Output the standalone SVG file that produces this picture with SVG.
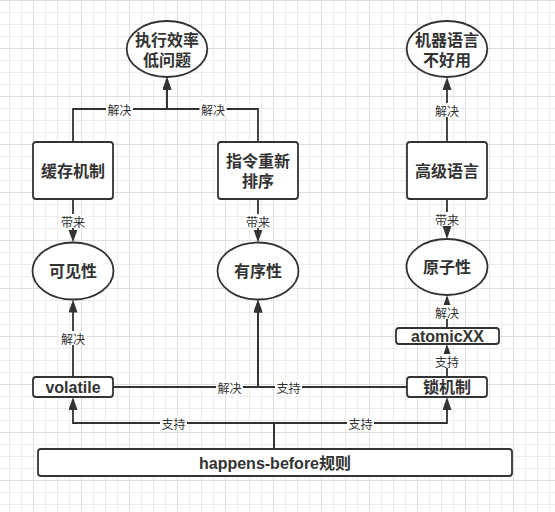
<svg xmlns="http://www.w3.org/2000/svg" width="555" height="512" viewBox="0 0 555 512">
  <defs>
    <!-- background grid: 12px minor cells, major line every 4 cells -->
    <pattern id="grid" width="48" height="48" patternUnits="userSpaceOnUse" x="-15" y="0">
      <rect x="0" y="0" width="48" height="48" fill="#ffffff"/>
      <rect x="12" y="0" width="1" height="48" fill="#ececec"/>
      <rect x="24" y="0" width="1" height="48" fill="#ececec"/>
      <rect x="36" y="0" width="1" height="48" fill="#ececec"/>
      <rect x="0" y="12" width="48" height="1" fill="#ececec"/>
      <rect x="0" y="24" width="48" height="1" fill="#ececec"/>
      <rect x="0" y="36" width="48" height="1" fill="#ececec"/>
      <rect x="0" y="0" width="1" height="48" fill="#dedede"/>
      <rect x="0" y="0" width="48" height="1" fill="#dedede"/>
    </pattern>
    <marker id="arrow" markerUnits="userSpaceOnUse" markerWidth="14" markerHeight="10" refX="9" refY="4.5" orient="auto">
      <path d="M0,0 L13,4.5 L0,9 Z" fill="#333333"/>
    </marker>
  </defs>
  <style>
    .box { fill: #ffffff; stroke: #333333; stroke-width: 1.8; }
    .t { font-family: "Liberation Sans", "Noto Sans CJK SC", sans-serif; font-size: 16px; font-weight: bold; fill: #333333; text-anchor: middle; dominant-baseline: central; }
    .edge { fill: none; stroke: #333333; stroke-width: 1.8; marker-end: url(#arrow); }
    .lb { fill: #ffffff; }
    .l { font-family: "Noto Sans CJK SC", sans-serif; font-size: 12px; fill: #333333; text-anchor: middle; dominant-baseline: central; }
  </style>

  <rect x="0" y="0" width="555" height="512" fill="url(#grid)"/>

  <!-- connectors -->
  <g id="connectors">
    <path class="edge" d="M73,142 V109 H167 V81"/>
    <path class="edge" d="M258,142 V109 H167 V81"/>
    <path class="edge" d="M447,142 V81"/>
    <path class="edge" d="M73,199 V238.5"/>
    <path class="edge" d="M258,199 V238.5"/>
    <path class="edge" d="M447,199 V235"/>
    <path class="edge" d="M73,377 V303.5"/>
    <path class="edge" d="M113,387 H258 V303.5"/>
    <path class="edge" d="M407,387 H258 V303.5"/>
    <path class="edge" d="M447,328 V299"/>
    <path class="edge" d="M447,377 V348"/>
    <path class="edge" d="M274,449 V423 H73 V401"/>
    <path class="edge" d="M274,449 V423 H447 V401"/>

    <!-- edge labels -->
    <rect class="lb" x="106" y="102" width="27" height="14"/>
    <text class="l" x="119.5" y="109">解决</text>
    <rect class="lb" x="199.5" y="102" width="27" height="14"/>
    <text class="l" x="213" y="109">解决</text>
    <rect class="lb" x="433.5" y="103" width="27" height="14"/>
    <text class="l" x="447" y="110">解决</text>
    <rect class="lb" x="59.5" y="214" width="27" height="14"/>
    <text class="l" x="73" y="221">带来</text>
    <rect class="lb" x="244.5" y="214" width="27" height="14"/>
    <text class="l" x="258" y="221">带来</text>
    <rect class="lb" x="433.5" y="212" width="27" height="14"/>
    <text class="l" x="447" y="219">带来</text>
    <rect class="lb" x="59.5" y="331" width="27" height="14"/>
    <text class="l" x="73" y="338">解决</text>
    <rect class="lb" x="216" y="380" width="27" height="14"/>
    <text class="l" x="229.5" y="387">解决</text>
    <rect class="lb" x="275" y="380" width="27" height="14"/>
    <text class="l" x="288.5" y="387">支持</text>
    <rect class="lb" x="433.5" y="305" width="27" height="14"/>
    <text class="l" x="447" y="312">解决</text>
    <rect class="lb" x="433.5" y="354" width="27" height="14"/>
    <text class="l" x="447" y="361">支持</text>
    <rect class="lb" x="160" y="416" width="27" height="14"/>
    <text class="l" x="173.5" y="423">支持</text>
    <rect class="lb" x="347" y="416" width="27" height="14"/>
    <text class="l" x="360.5" y="423">支持</text>
  </g>

  <!-- nodes -->
  <g id="low-efficiency">
    <ellipse class="box" cx="167" cy="49" rx="40.3" ry="28"/>
    <text class="t" x="167" y="40">执行效率</text>
    <text class="t" x="167" y="60">低问题</text>
  </g>
  <g id="machine-language">
    <ellipse class="box" cx="447" cy="49" rx="40.3" ry="28"/>
    <text class="t" x="447" y="40">机器语言</text>
    <text class="t" x="447" y="60">不好用</text>
  </g>
  <g id="cache">
    <rect class="box" x="33" y="142" width="80" height="57" rx="3"/>
    <text class="t" x="73" y="171">缓存机制</text>
  </g>
  <g id="reorder">
    <rect class="box" x="218" y="142" width="80" height="57" rx="3"/>
    <text class="t" x="258" y="161">指令重新</text>
    <text class="t" x="258" y="181">排序</text>
  </g>
  <g id="high-level-language">
    <rect class="box" x="407" y="142" width="80" height="57" rx="3"/>
    <text class="t" x="447" y="171">高级语言</text>
  </g>
  <g id="visibility">
    <ellipse class="box" cx="73" cy="271" rx="40.5" ry="28.5"/>
    <text class="t" x="73" y="271">可见性</text>
  </g>
  <g id="ordering">
    <ellipse class="box" cx="258" cy="271" rx="40.5" ry="28.5"/>
    <text class="t" x="258" y="271">有序性</text>
  </g>
  <g id="atomicity">
    <ellipse class="box" cx="447" cy="267" rx="40.5" ry="28"/>
    <text class="t" x="447" y="267">原子性</text>
  </g>
  <g id="atomic">
    <rect class="box" x="396" y="328" width="103" height="16" rx="3"/>
    <text class="t" x="447.5" y="336.5">atomicXX</text>
  </g>
  <g id="volatile">
    <rect class="box" x="33" y="377" width="80" height="20" rx="3"/>
    <text class="t" x="73" y="387.5">volatile</text>
  </g>
  <g id="lock">
    <rect class="box" x="407" y="377" width="80" height="20" rx="3"/>
    <text class="t" x="447" y="387.5">锁机制</text>
  </g>
  <g id="happens-before">
    <rect class="box" x="38" y="449" width="474" height="27" rx="3"/>
    <text class="t" x="275" y="463">happens-before规则</text>
  </g>
</svg>
